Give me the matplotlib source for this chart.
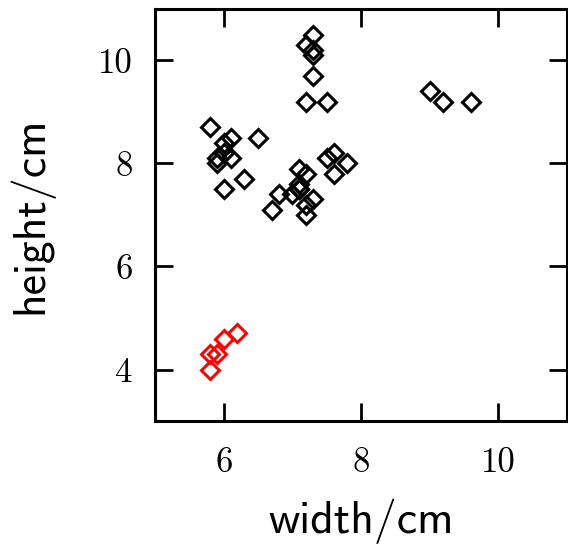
import matplotlib.pyplot as plt

# mandarins (red)
mand_w = [6.2, 6.0, 5.8, 5.9, 5.8]
mand_h = [4.7, 4.6, 4.3, 4.3, 4.0]

# oranges and lemons (black)
other_w = [9.0, 9.2, 9.6, 7.5, 6.7, 7.0, 7.1, 7.8, 7.2, 7.5, 7.6, 7.1, 7.1, 7.3, 7.2, 6.8, 7.1, 7.6, 7.2,
           7.2, 7.3, 7.2, 7.3, 7.3, 7.3, 5.8, 6.0, 6.0, 5.9, 6.0, 6.1, 6.3, 5.9, 6.5, 6.1]
other_h = [9.4, 9.2, 9.2, 9.2, 7.1, 7.4, 7.5, 8.0, 7.0, 8.1, 7.8, 7.9, 7.6, 7.3, 7.8, 7.4, 7.5, 8.2, 7.2,
           10.3, 10.5, 9.2, 10.2, 9.7, 10.1, 8.7, 8.2, 7.5, 8.0, 8.4, 8.5, 7.7, 8.1, 8.5, 8.1]

xticks = [6, 8, 10]
yticks = [4, 6, 8, 10]

fig = plt.figure(figsize=(5.68, 5.49), dpi=100)
ax = fig.add_axes([0.273, 0.233, 0.725, 0.751])

ax.plot(other_w, other_h, 'D', ms=8.8, mfc='none', mec='black', mew=2.2, ls='none')
ax.plot(mand_w, mand_h, 'D', ms=8.8, mfc='none', mec='red', mew=2.2, ls='none')

ax.set_xlim(5, 11)
ax.set_ylim(3, 11)
ax.set_xticks(xticks)
ax.set_yticks(yticks)
ax.set_xticklabels([str(t) for t in xticks], family='cmr10', fontsize=25)
ax.set_yticklabels([str(t) for t in yticks], family='cmr10', fontsize=25)
ax.tick_params(axis='x', pad=19)
ax.tick_params(axis='y', pad=16)
ax.tick_params(direction='in', length=13, width=2, top=True, right=True)
for s in ax.spines.values():
    s.set_linewidth(2.2)

ax.set_xlabel('width/cm', family='cmss10', fontsize=33, labelpad=14)
ax.set_ylabel('height/cm', family='cmss10', fontsize=33, labelpad=32)

fig.savefig('out.png')
